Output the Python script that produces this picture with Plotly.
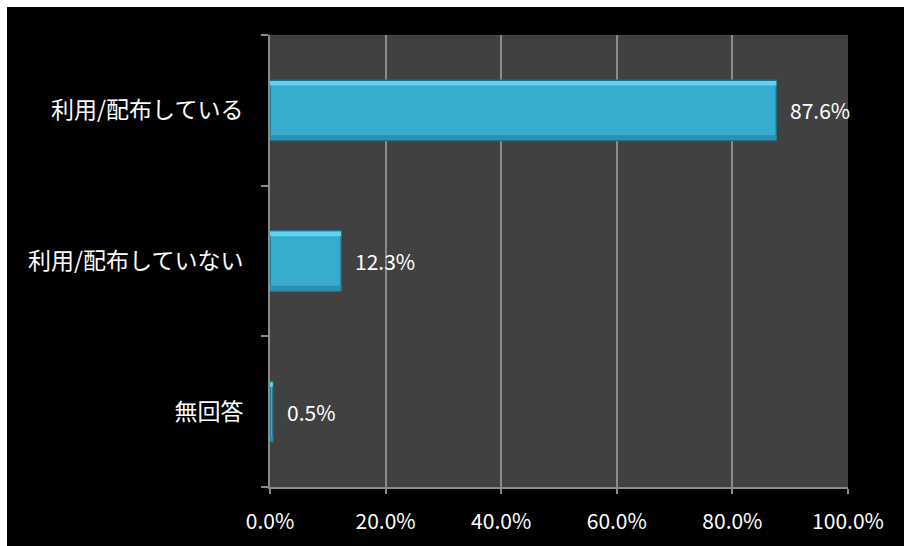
import plotly.graph_objects as go

# Survey answers and their shares (%)
categories = ["利用/配布している", "利用/配布していない", "無回答"]
shares = [87.6, 12.3, 0.5]
x_ticks = [0, 20, 40, 60, 80, 100]
x_tick_labels = ["0.0%", "20.0%", "40.0%", "60.0%", "80.0%", "100.0%"]

W, H = 904, 546
L, R, T, B = 270, 56, 35, 59
pw, ph = W - L - R, H - T - B

cjk = "Noto Sans CJK JP"
grid = "#8a8a8a"
bar_w = 0.4

fig = go.Figure()
fig.add_trace(go.Bar(
    x=shares, y=categories, orientation="h", width=bar_w,
    marker=dict(color="#38acce", line=dict(color="#226f88", width=1.5)),
    hoverinfo="skip",
))
# bevel: light strip along the top edge, darker strip along the bottom edge
edge = 0.03
fig.add_trace(go.Bar(
    x=shares, y=categories, orientation="h", width=edge,
    offset=bar_w / 2 - edge - 0.005,
    marker=dict(color="#62d2ee", line=dict(width=0)),
    hoverinfo="skip",
))
fig.add_trace(go.Bar(
    x=shares, y=categories, orientation="h", width=edge,
    offset=-bar_w / 2 + 0.005,
    marker=dict(color="#2b8fae", line=dict(width=0)),
    hoverinfo="skip",
))

# value labels to the right of each bar
for v, c in zip(shares, categories):
    fig.add_annotation(
        x=v, y=c, text=f"{v:.1f}%", showarrow=False,
        xanchor="left", yanchor="middle", xshift=12,
        font=dict(family=cjk, size=21, color="white"),
    )

# thin white margin along the top and left edges of the black frame
for x0, x1, y0, y1 in [
    (-L / pw, (W - L) / pw, (T + ph - 7) / ph, (T + ph) / ph),
    (-L / pw, (7 - L) / pw, -B / ph, (T + ph) / ph),
]:
    fig.add_shape(
        type="rect", xref="paper", yref="paper", layer="above",
        x0=x0, x1=x1, y0=y0, y1=y1,
        fillcolor="white", line=dict(width=0),
    )

fig.update_layout(
    width=W, height=H,
    margin=dict(l=L, r=R, t=T, b=B),
    paper_bgcolor="black",
    plot_bgcolor="#414141",
    showlegend=False,
    barmode="overlay",
    font=dict(family=cjk, color="white"),
    xaxis=dict(
        range=[0, 100], tickvals=x_ticks, ticktext=x_tick_labels,
        showgrid=True, gridcolor=grid, gridwidth=1.5,
        showline=True, linecolor=grid, linewidth=2,
        ticks="outside", ticklen=5, tickcolor=grid, tickwidth=1.5,
        tickfont=dict(family=cjk, size=21, color="white"),
        ticklabelstandoff=10,
        zeroline=False, fixedrange=True,
    ),
    yaxis=dict(
        categoryorder="array", categoryarray=categories[::-1],
        tickson="boundaries", ticks="outside", ticklen=7,
        tickcolor=grid, tickwidth=1.5,
        showline=True, linecolor=grid, linewidth=2,
        showgrid=False, zeroline=False,
        tickfont=dict(family=cjk, size=23, color="white"),
        ticklabelstandoff=20, fixedrange=True,
    ),
)

fig.write_html("out.html")
